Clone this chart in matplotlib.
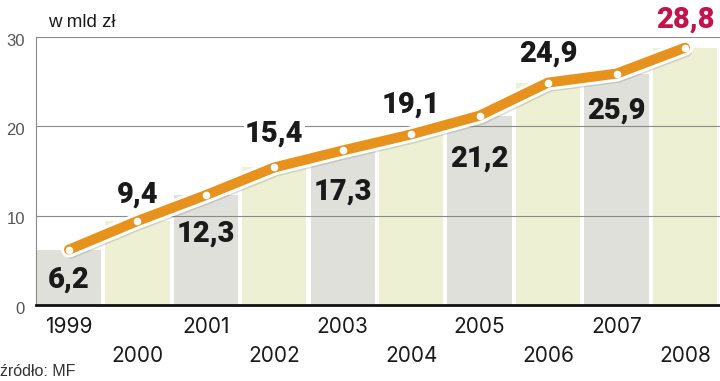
import numpy as np
import matplotlib
matplotlib.use('Agg')
import matplotlib.pyplot as plt
import matplotlib.patheffects as pe

years = ['1999', '2000', '2001', '2002', '2003', '2004', '2005', '2006', '2007', '2008']
values = [6.2, 9.4, 12.3, 15.4, 17.3, 19.1, 21.2, 24.9, 25.9, 28.8]
labels = ['6,2', '9,4', '12,3', '15,4', '17,3', '19,1', '21,2', '24,9', '25,9', '28,8']

plt.rcParams['font.family'] = ['Inter', 'DejaVu Sans']

fig = plt.figure(figsize=(7.2, 3.81), dpi=100)
ax = fig.add_axes([36 / 720, 1 - 305 / 381, 1 - 36 / 720, (305 - 37) / 381])

x = np.arange(len(years))
bar_cols = ['#dfe0da' if i % 2 == 0 else '#eef0d3' for i in range(len(years))]
ax.bar(x, values, width=0.94, color=bar_cols, zorder=1)

ax.set_xlim(-0.482, 9.512)
ax.set_ylim(0, 30)
for yv in [10, 20, 30]:
    ax.axhline(yv, color='#8a8a8a', lw=0.8, zorder=2)

ax.plot(x, values, color='#e8921e', lw=7.2, solid_capstyle='round', zorder=4,
        path_effects=[pe.SimpleLineShadow(offset=(1.5, -3), shadow_color='#777777', alpha=0.25),
                      pe.Stroke(linewidth=11.5, foreground='white'), pe.Normal()])
ax.plot(x, values, 'o', color='white', ms=4.5, zorder=5)

# baseline offsets of value labels (below / above the line)
offs = [-4.3, 2.1, -5.2, 2.85, -5.5, 2.4, -5.75, 2.3, -5.0, 2.3]
for i, (v, t) in enumerate(zip(values, labels)):
    col = '#c5124c' if i == len(values) - 1 else '#1a1a1a'
    bb = dict(facecolor='white', edgecolor='none', pad=1) if offs[i] > 0 and i < len(values) - 1 else None
    ax.text(i, v + offs[i], t, ha='center', va='baseline', fontsize=21, fontweight='black',
            family=['Roboto', 'DejaVu Sans'],
            color=col, clip_on=False, zorder=3 if bb else 6, bbox=bb)

ax.spines['top'].set_visible(False)
ax.spines['right'].set_visible(False)
ax.spines['left'].set_color('#8a8a8a')
ax.spines['left'].set_linewidth(0.8)
ax.spines['bottom'].set_color('#111111')
ax.spines['bottom'].set_linewidth(2)
ax.spines['bottom'].set_zorder(6)

ax.set_yticks([])
ax.set_xticks([])
for yv in [0, 10, 20, 30]:
    ax.annotate(str(yv), xy=(0, yv), xycoords=('axes fraction', 'data'),
                xytext=(-8, -3), textcoords='offset points', ha='right', va='center',
                fontsize=12, color='#555555', family='Liberation Sans')
for i, yr in enumerate(years):
    yy = -3.14 if i % 2 == 0 else -6.38
    ax.text(i, yy, yr, ha='center', va='baseline', fontsize=15, color='#1a1a1a', clip_on=False)

fig.text(48 / 720, 1 - 27 / 381, 'w mld zł', fontsize=13.5, color='#1a1a1a', va='baseline',
         family='Liberation Sans')
fig.text(0, 1 - 376 / 381, 'źródło: MF', fontsize=11.5, color='#333333', va='baseline',
         family='Liberation Sans')

fig.savefig('out.png', dpi=100)
